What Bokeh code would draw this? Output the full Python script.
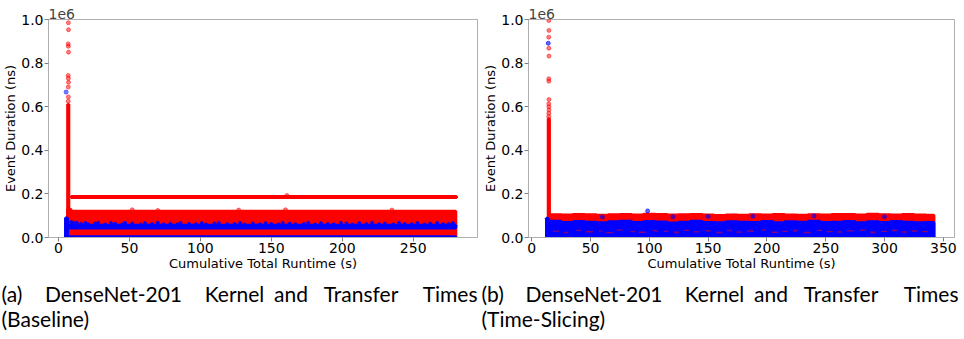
from bokeh.plotting import figure
from bokeh.layouts import column, row
from bokeh.models import Range1d, Label, FixedTicker
from bokeh.embed import file_html
from bokeh.resources import INLINE

RED = "#ff0000"
BLUE = "#0000ff"

# ---------------- shared axis data ----------------
y_ticks = [0, 200000, 400000, 600000, 800000, 1000000]
y_tick_labels = ["0.0", "0.2", "0.4", "0.6", "0.8", "1.0"]
a_x_ticks = [0, 50, 100, 150, 200, 250]
b_x_ticks = [0, 50, 100, 150, 200, 250, 300, 350]
x_label = "Cumulative Total Runtime (s)"
y_label = "Event Duration (ns)"
offset_text = "1e6"
captions_a = ["(a)", "DenseNet-201", "Kernel", "and", "Transfer", "Times"]
captions_a2 = "(Baseline)"
captions_b = ["(b)", "DenseNet-201", "Kernel", "and", "Transfer", "Times"]
captions_b2 = "(Time-Slicing)"

# ---------------- (a) Baseline ----------------
a_red_x = [7.0, 7.1, 6.9, 7.0, 7.1, 6.9, 7.0, 7.1, 6.9, 7.0, 6.9, 52, 70, 127, 160, 235, 161]
a_red_y = [985000, 953000, 888000, 877000, 850000, 743000, 730000, 712000, 690000,
           645000, 625000, 127000, 124000, 126000, 127000, 126000, 193000]
a_blue_x = [5.4]
a_blue_y = [667000]
a_red_x0 = [6.5, 6.5, 7.5, 9.0]
a_red_x1 = [7.3, 8.8, 280.0, 280.5]
a_red_y0 = [0, 0, 0, 184000]
a_red_y1 = [610000, 130000, 120000, 188000]
a_blue_x0 = [5.0, 6.5, 6.5]
a_blue_x1 = [6.4, 280.0, 280.0]
a_blue_y0 = [0, 44000, 0]
a_blue_y1 = [89000, 56000, 4000]
a_blue_bump_x = [9, 11, 13, 16, 19, 21, 26, 28, 33, 37, 40, 45, 47, 52, 58, 61, 66, 70,
                 74, 79, 84, 86, 92, 97, 101, 104, 110, 113, 119, 124, 128, 131, 137,
                 142, 146, 150, 155, 158, 163, 167, 173, 176, 181, 185, 190, 194, 199,
                 203, 207, 212, 217, 221, 226, 230, 236, 240, 244, 249, 253, 258, 262,
                 267, 271, 275, 278]
a_blue_bump_y = [71000, 66000, 68000, 62000, 67000, 61000, 64000, 68000, 60000, 66000,
                 63000, 61000, 67000, 64000, 60000, 66000, 62000, 68000, 61000, 64000,
                 60000, 67000, 63000, 61000, 66000, 60000, 64000, 68000, 61000, 62000,
                 67000, 60000, 64000, 61000, 66000, 62000, 60000, 67000, 64000, 61000,
                 62000, 68000, 60000, 66000, 62000, 61000, 67000, 64000, 60000, 66000,
                 62000, 68000, 61000, 64000, 60000, 67000, 62000, 61000, 66000, 60000,
                 64000, 67000, 61000, 62000, 66000]

# ---------------- (b) Time-Slicing ----------------
b_red_x = [14.5, 14.6, 14.4, 14.5, 14.6, 14.4, 14.5, 14.6, 14.4, 14.5, 14.6, 14.5, 14.4]
b_red_y = [995000, 950000, 919000, 868000, 832000, 728000, 717000, 633000, 613000,
           600000, 585000, 570000, 555000]
b_blue_x = [14.0, 98.5, 150, 188, 240, 60, 120, 300]
b_blue_y = [891000, 122000, 96000, 98000, 99000, 94000, 95000, 95000]
b_spike_x0 = [14.0]
b_spike_x1 = [15.0]
b_spike_y1 = [545000]
b_edges = [15, 25, 35, 45, 55, 65, 75, 85, 95, 105, 115, 125, 135, 145, 155, 165, 175,
           185, 195, 205, 215, 225, 235, 245, 255, 265, 275, 285, 295, 305, 315, 325,
           335, 342]
b_red_tops = [104000, 103000, 105000, 104000, 102000, 104000, 106000, 103000, 107000,
              105000, 103000, 104000, 106000, 103000, 101000, 103000, 102000, 104000,
              103000, 105000, 103000, 102000, 104000, 103000, 105000, 106000, 103000,
              107000, 104000, 103000, 105000, 103000, 102000]
b_blue_tops = [74000, 69000, 73000, 70000, 68000, 72000, 74000, 69000, 73000, 71000,
               67000, 70000, 74000, 69000, 68000, 72000, 70000, 69000, 73000, 68000,
               72000, 70000, 74000, 69000, 70000, 73000, 68000, 72000, 69000, 73000,
               70000, 68000, 69000]
b_blue_col_x0 = [12.5]
b_blue_col_x1 = [14.0]
b_blue_col_y1 = [88000]
b_patch_x0 = [18, 27, 38, 46, 57, 63, 72, 84, 91, 103, 112, 121, 129, 138, 148, 157, 166,
              174, 183, 195, 204, 213, 222, 231, 243, 251, 260, 268, 279, 288, 297, 306,
              315, 323, 332]
b_patch_x1 = [23, 31, 42, 52, 60, 69, 77, 88, 97, 107, 116, 125, 134, 143, 152, 162, 170,
              179, 189, 199, 209, 218, 226, 237, 247, 256, 264, 274, 284, 292, 302, 311,
              319, 328, 337]
b_patch_y0 = [26000, 20000, 30000, 23000, 27000, 19000, 31000, 24000, 21000, 28000,
              25000, 20000, 30000, 23000, 27000, 19000, 29000, 22000, 26000, 31000,
              21000, 25000, 28000, 20000, 30000, 24000, 22000, 27000, 31000, 20000,
              25000, 29000, 22000, 26000, 24000]
b_patch_y1 = [32000, 26000, 36000, 30000, 33000, 25000, 37000, 30000, 28000, 34000,
              31000, 27000, 36000, 29000, 34000, 26000, 35000, 28000, 33000, 37000,
              27000, 31000, 35000, 26000, 36000, 30000, 29000, 33000, 37000, 27000,
              31000, 35000, 29000, 33000, 30000]

FONT = "DejaVu Sans"


def style(p, xticks):
    p.outline_line_color = "#b0b0b0"
    p.xgrid.visible = False
    p.ygrid.visible = False
    for ax in (p.xaxis[0], p.yaxis[0]):
        ax.axis_line_color = "#b0b0b0"
        ax.major_tick_line_color = "#808080"
        ax.minor_tick_line_color = None
        ax.major_tick_out = 4
        ax.major_tick_in = 0
        ax.major_label_text_font = FONT
        ax.major_label_text_font_size = "14px"
        ax.major_label_text_color = "black"
        ax.axis_label_text_font = FONT
        ax.axis_label_text_font_size = "13px"
        ax.axis_label_text_font_style = "normal"
        ax.axis_label_text_color = "black"
        ax.major_label_standoff = 1
        ax.axis_label_standoff = 0
    p.xaxis[0].ticker = FixedTicker(ticks=xticks)
    p.yaxis[0].ticker = FixedTicker(ticks=y_ticks)
    p.yaxis[0].major_label_overrides = {t: l for t, l in zip(y_ticks, y_tick_labels)}
    p.xaxis[0].axis_label = x_label
    p.yaxis[0].axis_label = y_label
    p.title.text = offset_text
    p.title.align = "left"
    p.title.text_font = FONT
    p.title.text_font_size = "14px"
    p.title.text_font_style = "normal"
    p.title.standoff = 1


PLOT_H = 273


def make_fig(width, xr, left, right):
    p = figure(width=width, height=PLOT_H, x_range=Range1d(*xr), y_range=Range1d(0, 1000000),
               output_backend="svg", toolbar_location=None,
               min_border_left=left, min_border_right=right, min_border_top=19,
               min_border_bottom=30)
    return p


pa = make_fig(480, (-7.0, 295.3), 45, 3)
pa.quad(left=a_red_x0, right=a_red_x1, bottom=a_red_y0, top=a_red_y1,
        fill_color=RED, line_color=RED, line_width=3)
pa.quad(left=a_blue_x0, right=a_blue_x1, bottom=a_blue_y0, top=a_blue_y1,
        fill_color=BLUE, line_color=BLUE, line_width=3)
pa.scatter(a_blue_bump_x, a_blue_bump_y, size=3, color=BLUE, alpha=0.9)
pa.scatter(a_red_x, a_red_y, size=4, color=RED, alpha=0.5)
pa.scatter(a_blue_x, a_blue_y, size=4, color=BLUE, alpha=0.5)
style(pa, a_x_ticks)

pb = make_fig(484, (-2.8, 359.5), 45, 10)
pb.quad(left=b_spike_x0, right=b_spike_x1, bottom=[0], top=b_spike_y1,
        fill_color=RED, line_color=RED, line_width=3)
pb.quad(left=b_edges[:-1], right=b_edges[1:], bottom=0, top=b_red_tops,
        fill_color=RED, line_color=RED, line_width=3)
pb.quad(left=b_blue_col_x0, right=b_blue_col_x1, bottom=[0], top=b_blue_col_y1,
        fill_color=BLUE, line_color=BLUE, line_width=3)
pb.quad(left=b_edges[:-1], right=b_edges[1:], bottom=0, top=b_blue_tops,
        fill_color=BLUE, line_color=BLUE, line_width=3)
pb.quad(left=b_patch_x0, right=b_patch_x1, bottom=b_patch_y0, top=b_patch_y1,
        fill_color=RED, line_color=None, fill_alpha=0.55)
pb.scatter(b_red_x, b_red_y, size=4, color=RED, alpha=0.5)
pb.scatter(b_blue_x, b_blue_y, size=4, color=BLUE, alpha=0.6)
style(pb, b_x_ticks)

# ---- captions (justified lines: first word left, last word right)
CAP_H = 339 - PLOT_H
pc = figure(width=964, height=CAP_H, x_range=Range1d(0, 964), y_range=Range1d(CAP_H, 0),
            output_backend="svg", toolbar_location=None, min_border=0, title=None,
            x_axis_location=None, y_axis_location=None)
pc.outline_line_color = None
pc.xgrid.visible = False
pc.ygrid.visible = False
pos_a = [(1, "left"), (113, "center"), (234, "center"), (290.5, "center"),
         (360.5, "center"), (477, "right")]
pos_b = [(481, "left"), (593.5, "center"), (714, "center"), (770.5, "center"),
         (840.5, "center"), (958, "right")]
for txt, (cx, al) in zip(captions_a + captions_b, pos_a + pos_b):
    pc.add_layout(Label(x=cx, y=20, text=txt, text_font="Lato", text_font_size="21px",
                        text_align=al, text_baseline="middle", text_color="black"))
for txt, lx in zip([captions_a2, captions_b2], [1, 481]):
    pc.add_layout(Label(x=lx, y=45, text=txt, text_font="Lato", text_font_size="21px",
                        text_align="left", text_baseline="middle", text_color="black"))

layout = column(row(pa, pb, spacing=0), pc, spacing=0)
open("out.html", "w").write(file_html(layout, INLINE))
